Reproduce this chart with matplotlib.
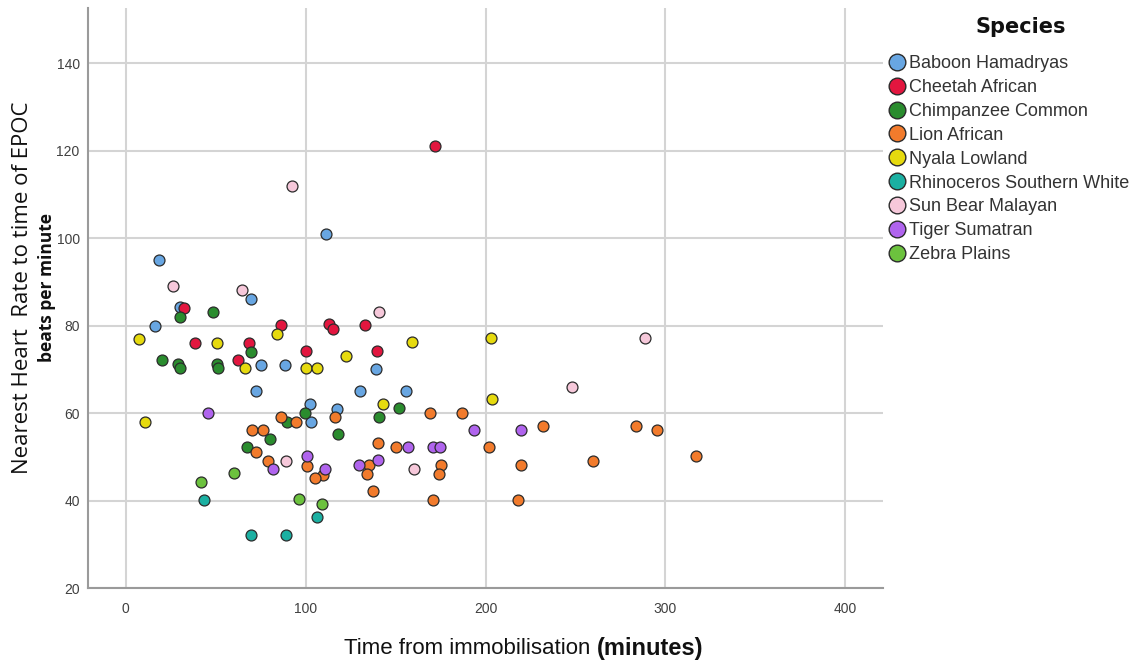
import matplotlib
matplotlib.use("Agg")
import matplotlib.pyplot as plt
from matplotlib.lines import Line2D

species = ["Baboon Hamadryas", "Cheetah African", "Chimpanzee Common", "Lion African",
           "Nyala Lowland", "Rhinoceros Southern White", "Sun Bear Malayan",
           "Tiger Sumatran", "Zebra Plains"]
colors = ["#68A6E2", "#E2163F", "#2A8C2E", "#F27B2C", "#E6DA0E", "#1BB0A2",
          "#F6C8DA", "#B064EE", "#6CC23E"]

baboon_x = [18.4, 16.5, 30.0, 69.6, 111.3, 75.1, 88.3, 72.2, 130.0, 155.8, 139.0, 102.2, 117.2, 103.1]
baboon_y = [95, 80, 84.2, 86, 101, 71, 71, 65, 65, 65, 70, 62, 61, 58]

cheetah_x = [32.6, 86.3, 113.2, 115.4, 133.2, 38.4, 68.4, 62.5, 100.3, 139.9, 171.8]
cheetah_y = [84.1, 80.1, 80.3, 79.1, 80.1, 76.1, 76.1, 72.1, 74.2, 74.2, 121]

chimp_x = [48.6, 30.2, 69.4, 20.4, 29.3, 30.0, 50.5, 51.4, 152.1, 99.4, 89.4, 141.0, 80.1, 118.1, 67.2]
chimp_y = [83.2, 82, 74, 72.1, 71.2, 70.2, 71.2, 70.2, 61.1, 60.1, 58, 59, 54.1, 55.1, 52.2]

lion_x = [86.3, 94.6, 116.1, 169.2, 186.8, 70.3, 76.2, 72.3, 79.2, 140.0, 150.1, 100.5, 109.8,
          105.2, 135.2, 134.3, 175.1, 174.2, 137.3, 170.8, 231.9, 283.8, 295.5, 202.0, 219.8,
          259.7, 317.2, 218.0]
lion_y = [59.2, 58, 59, 60.1, 60.1, 56.1, 56.1, 51.2, 49.1, 53.2, 52.2, 48, 45.8,
          45.1, 48.1, 46.1, 48.1, 46.1, 42.2, 40.1, 57, 57, 56.1, 52.2, 48.1,
          49.1, 50.2, 40.1]

nyala_x = [84.2, 7.4, 50.5, 66.2, 159.2, 122.4, 100.2, 106.3, 143.2, 10.6, 202.9, 203.7]
nyala_y = [78.1, 77, 76.1, 70.2, 76.2, 73.1, 70.2, 70.2, 62.1, 58, 77.1, 63.1]

rhino_x = [43.4, 69.4, 89.0, 106.3]
rhino_y = [40.1, 32.1, 32.1, 36.2]

sunbear_x = [26.3, 64.4, 141.0, 92.4, 89.0, 160.1, 288.6, 248.0]
sunbear_y = [89.1, 88.1, 83.2, 112, 49.1, 47.1, 77.1, 66]

tiger_x = [45.8, 157.1, 171.0, 174.7, 82.0, 100.5, 111.0, 129.8, 140.0, 193.7, 219.8]
tiger_y = [60.1, 52.2, 52.2, 52.2, 47.1, 50.2, 47.1, 48.1, 49.2, 56.1, 56.1]

zebra_x = [41.6, 60.3, 96.4, 109.2]
zebra_y = [44.2, 46.2, 40.3, 39.1]

xs = [baboon_x, cheetah_x, chimp_x, lion_x, nyala_x, rhino_x, sunbear_x, tiger_x, zebra_x]
ys = [baboon_y, cheetah_y, chimp_y, lion_y, nyala_y, rhino_y, sunbear_y, tiger_y, zebra_y]

x_ticks = [0, 100, 200, 300, 400]
y_ticks = [20, 40, 60, 80, 100, 120, 140]

fig = plt.figure(figsize=(11.45, 6.64), dpi=100)
ax = fig.add_axes([88 / 1145, 1 - 588 / 664, (883 - 88) / 1145, (588 - 8) / 664])

for x, y, c in zip(xs, ys, colors):
    ax.scatter(x, y, s=62, c=c, edgecolors="#2b2b2b", linewidths=0.9, zorder=3)

ax.set_xlim(-21, 421)
ax.set_ylim(20, 152.6)
ax.set_xticks(x_ticks)
ax.set_yticks(y_ticks)
ax.grid(True, color="#d4d4d4", linewidth=1.5, zorder=0)
ax.set_axisbelow(True)
for s in ["top", "right"]:
    ax.spines[s].set_visible(False)
for s in ["left", "bottom"]:
    ax.spines[s].set_color("#9a9a9a")
    ax.spines[s].set_linewidth(1.5)
ax.tick_params(length=0, labelsize=10, labelcolor="#404040")
ax.tick_params(axis="y", pad=6)
ax.tick_params(axis="x", pad=10)
for lab in ax.get_xticklabels() + ax.get_yticklabels():
    lab.set_family("Liberation Sans")

fig.text(23 / 1145, 1 - 288 / 664, "Nearest Heart  Rate to time of EPOC", rotation=90,
         ha="center", va="center", fontsize=16, family="Open Sans", color="#111111")
fig.text(47 / 1145, 1 - 287 / 664, "beats per minute", rotation=90,
         ha="center", va="center", fontsize=12.5, family="Open Sans", weight="bold", color="#111111")

fig.text(597 / 1145, 1 - 648 / 664, "Time from immobilisation ", ha="right", va="center",
         fontsize=16, family="Liberation Sans", color="#111111")
fig.text(597 / 1145, 1 - 649 / 664, "(minutes)", ha="left", va="center",
         fontsize=17, family="Liberation Sans", weight="bold", color="#111111")

fig.text(1021 / 1145, 1 - 27 / 664, "Species", ha="center", va="center",
         fontsize=15, weight="bold", color="#111111")

handles = [Line2D([], [], marker="o", linestyle="", markersize=12, markerfacecolor=c,
                  markeredgecolor="#2b2b2b", markeredgewidth=1.0) for c in colors]
leg = fig.legend(handles, species, loc="upper left", bbox_to_anchor=(879 / 1145, 1 - 48 / 664),
                 frameon=False, fontsize=13, handletextpad=0.05,
                 labelspacing=0.38, handlelength=1.2, borderaxespad=0)
for t in leg.get_texts():
    t.set_color("#333333")
    t.set_family("Liberation Sans")

fig.savefig("out.png", dpi=100)
